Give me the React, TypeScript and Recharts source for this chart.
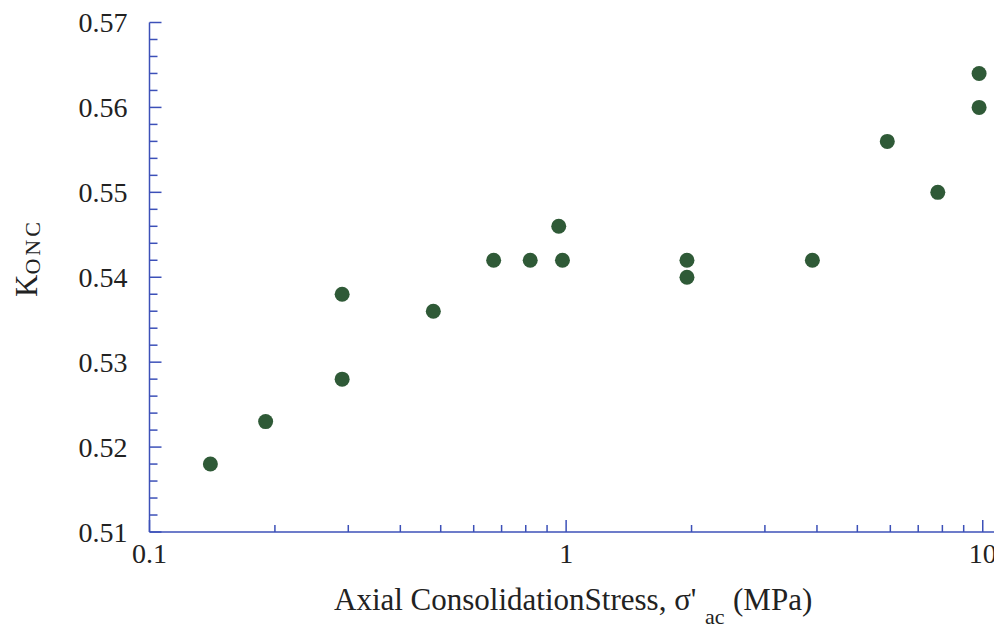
import { Scatter, ScatterChart, XAxis, YAxis } from "recharts";

// K0 measurements vs. axial consolidation stress
const stressMPa = [0.14, 0.19, 0.29, 0.29, 0.48, 0.67, 0.82, 0.96, 0.98, 1.95, 1.95, 3.9, 5.9, 7.8, 9.8, 9.8];
const kOnc = [0.518, 0.523, 0.538, 0.528, 0.536, 0.542, 0.542, 0.546, 0.542, 0.542, 0.54, 0.542, 0.556, 0.55, 0.564, 0.56];

const xMajor = [0.1, 1, 10];
const xTicks = [
  0.1, 0.2, 0.3, 0.4, 0.5, 0.6, 0.7, 0.8, 0.9,
  1, 2, 3, 4, 5, 6, 7, 8, 9,
  10,
];
const yMajor = [0.51, 0.52, 0.53, 0.54, 0.55, 0.56, 0.57];
const yTicks: number[] = [];
for (let i = 510; i <= 570; i += 2) yTicks.push(i / 1000);

const data = stressMPa.map((s, i) => ({ s, k: kOnc[i] }));

const AXIS = "#3c50b8";
const DOT = "#2f5a37";
const serif = { fontFamily: '"Liberation Serif", "Times New Roman", Times, serif' };

const isMajorX = (v: number) => xMajor.some((m) => Math.abs(m - v) < 1e-9);
const isMajorY = (v: number) => yMajor.some((m) => Math.abs(m - v) < 1e-9);

function BottomTick(props: any) {
  const { x, y, payload } = props;
  const major = isMajorX(payload.value);
  return (
    <g>
      <line x1={x} x2={x} y1={y} y2={y - (major ? 12 : 7)} stroke={AXIS} strokeWidth={1.5} />
      {major && (
        <text x={x} y={y + 31} textAnchor="middle" fontSize={28} style={serif} fill="#222">
          {payload.value}
        </text>
      )}
    </g>
  );
}

function TopTick(props: any) {
  const { x, y, payload } = props;
  const major = isMajorX(payload.value);
  return <line x1={x} x2={x} y1={y} y2={y + (major ? 12 : 6)} stroke={AXIS} strokeWidth={1.5} />;
}

function LeftTick(props: any) {
  const { x, y, payload } = props;
  const major = isMajorY(payload.value);
  return (
    <g>
      <line x1={x} x2={x + (major ? 12 : 8)} y1={y} y2={y} stroke={AXIS} strokeWidth={1.5} />
      {major && (
        <text x={x - 22} y={y} dy="0.35em" textAnchor="end" fontSize={28} style={serif} fill="#222">
          {payload.value.toFixed(2)}
        </text>
      )}
    </g>
  );
}

function RightTick(props: any) {
  const { x, y, payload } = props;
  const major = isMajorY(payload.value);
  return <line x1={x} x2={x - (major ? 12 : 8)} y1={y} y2={y} stroke={AXIS} strokeWidth={1.5} />;
}

const Dot = (props: any) => <circle cx={props.cx} cy={props.cy} r={7.5} fill={DOT} />;

export default function App() {
  return (
    <div style={{ position: "absolute", left: 0, top: 0, width: 994, height: 628, overflow: "hidden", background: "#fff" }}>
      <ScatterChart width={1000} height={628} margin={{ top: 22.5, right: 0, bottom: 0, left: 0 }}>
        <XAxis
          xAxisId="b"
          dataKey="s"
          type="number"
          scale="log"
          domain={[0.1, 11]}
          allowDataOverflow
          ticks={xTicks}
          interval={0}
          height={96}
          tickSize={0}
          tickMargin={0}
          tickLine={false}
          stroke={AXIS}
          strokeWidth={1.5}
          tick={<BottomTick />}
          label={{
            content: () => (
              <text x={334} y={610} fontSize={31} style={serif} fill="#222">
                Axial ConsolidationStress, σ'
                <tspan x={705} y={624} fontSize={22}>ac</tspan>
                <tspan x={733} y={610}>(MPa)</tspan>
              </text>
            ),
          }}
        />
        <XAxis
          xAxisId="t"
          orientation="top"
          dataKey="s"
          type="number"
          scale="log"
          domain={[0.1, 11]}
          allowDataOverflow
          ticks={xTicks}
          interval={0}
          height={0}
          tickSize={0}
          tickMargin={0}
          tickLine={false}
          stroke={AXIS}
          strokeWidth={1.5}
          tick={<TopTick />}
        />
        <YAxis
          yAxisId="l"
          dataKey="k"
          type="number"
          domain={[0.51, 0.57]}
          allowDataOverflow
          ticks={yTicks}
          interval={0}
          width={149.5}
          tickSize={0}
          tickMargin={0}
          tickLine={false}
          stroke={AXIS}
          strokeWidth={1.5}
          tick={<LeftTick />}
          label={{
            content: () => (
              <text transform="rotate(-90)" x={-297} y={37} fontSize={31} style={serif} fill="#222">
                K
                <tspan dy={3} fontSize={22} letterSpacing={3}>ONC</tspan>
              </text>
            ),
          }}
        />
        <YAxis
          yAxisId="r"
          orientation="right"
          dataKey="k"
          type="number"
          domain={[0.51, 0.57]}
          allowDataOverflow
          ticks={yTicks}
          interval={0}
          width={0}
          tickSize={0}
          tickMargin={0}
          tickLine={false}
          stroke={AXIS}
          strokeWidth={1.5}
          tick={<RightTick />}
        />
        <Scatter data={data} xAxisId="b" yAxisId="l" shape={<Dot />} isAnimationActive={false} />
      </ScatterChart>
    </div>
  );
}
